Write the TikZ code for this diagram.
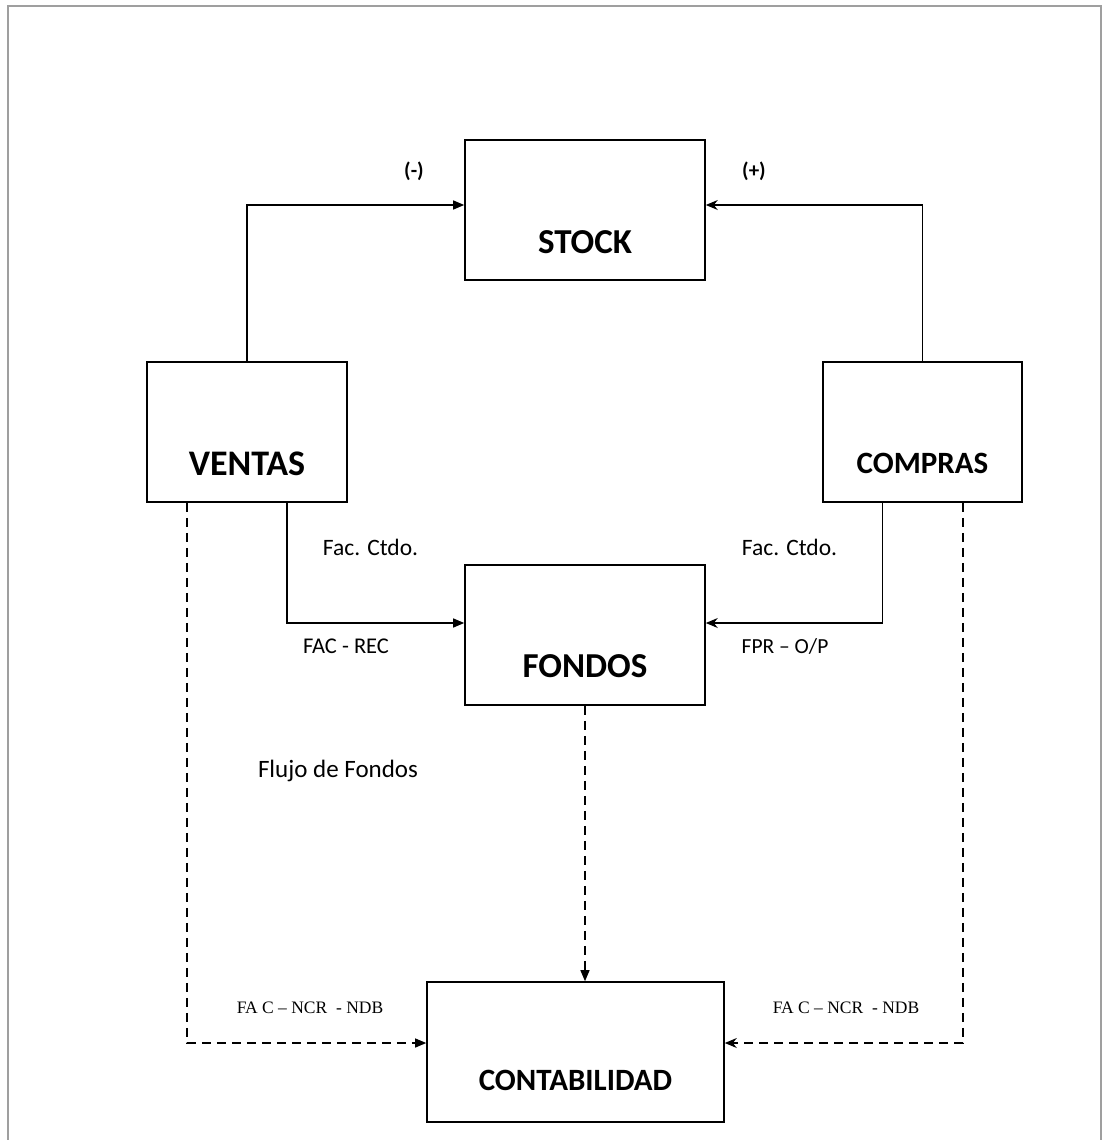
\documentclass[tikz,border=0pt]{standalone}
\usepackage{fontspec}
\setmainfont{Carlito}
\newfontfamily\tnr{Liberation Serif}
\usetikzlibrary{arrows.meta}
\newcommand{\lowtxt}[2]{\raisebox{-#1}[0pt][0pt]{#2}}
\tikzset{
  box/.style={draw, line width=1.6pt, minimum width=240pt, minimum height=140pt, inner sep=0pt, font=\bfseries\fontsize{35}{40}\selectfont},
  con/.style={line width=1.2pt, -{Triangle[length=11pt,width=9pt]}},
  cons/.style={line width=1.2pt, -{Stealth[length=12pt,width=10pt,inset=4pt]}},
  dcon/.style={con, dash pattern=on 9pt off 6pt},
  dcons/.style={cons, dash pattern=on 9pt off 6pt},
  lbl/.style={font=\fontsize{23.5}{26}\selectfont, anchor=base, inner sep=0pt},
  sml/.style={font=\bfseries\fontsize{21}{24}\selectfont, anchor=base, inner sep=0pt},
  ser/.style={font=\tnr\fontsize{17.5}{20}\selectfont, anchor=base, inner sep=0pt},
}
\begin{document}
\begin{tikzpicture}[x=1pt,y=-1pt]
\useasboundingbox (0,0) rectangle (1103,1140);
\fill[white] (0,0) rectangle (1103,1140);
\draw[line width=2pt, gray!75] (8,6) rectangle (1101,1150);

\node[box] (stock) at (585,210) {\lowtxt{43pt}{STOCK}};
\node[box, minimum width=200pt, font=\bfseries\fontsize{36}{40}\selectfont] (ventas) at (247,432) {\lowtxt{43pt}{VENTAS}};
\node[box, minimum width=199pt, font=\bfseries\fontsize{31}{36}\selectfont] (compras) at (922.5,432) {\lowtxt{41pt}{COMPRAS}};
\node[box] (fondos) at (585,635) {\lowtxt{42pt}{FONDOS}};
\node[box, minimum width=297pt, font=\bfseries\fontsize{31}{36}\selectfont] (cont) at (575.5,1052) {\lowtxt{38pt}{CONTABILIDAD}};

\draw[con] (ventas.north) |- ([yshift=5pt]stock.west);
\draw[cons] (compras.north) |- ([yshift=5pt]stock.east);
\draw[con] ([xshift=40pt]ventas.south) |- ([yshift=12pt]fondos.west);
\draw[cons] ([xshift=-40pt]compras.south) |- ([yshift=12pt]fondos.east);
\draw[dcon] ([xshift=-60pt]ventas.south) |- ([yshift=9pt]cont.west);
\draw[dcons] ([xshift=40.5pt]compras.south) |- ([yshift=9pt]cont.east);
\draw[dcon] (fondos.south) -- (fondos.south |- cont.north);

\node[sml] (menos) at (414,177) {(-)};
\node[sml] (mas) at (754,177) {(+)};
\node[lbl] (fcl) at (370.5,555) {Fac. Ctdo.};
\node[lbl] (fcr) at (789.5,555) {Fac. Ctdo.};
\node[lbl, font=\fontsize{22.5}{26}\selectfont] (facrec) at (346,653) {FAC - REC};
\node[lbl, font=\fontsize{21.5}{26}\selectfont] (fpr) at (785,653) {FPR – O/P};
\node[lbl, font=\fontsize{25}{28}\selectfont] (flujo) at (338,777) {Flujo de Fondos};
\node[ser] (ncrl) at (310,1013) {FA C – NCR \ - NDB};
\node[ser] (ncrr) at (846,1013) {FA C – NCR \ - NDB};
\end{tikzpicture}
\end{document}
